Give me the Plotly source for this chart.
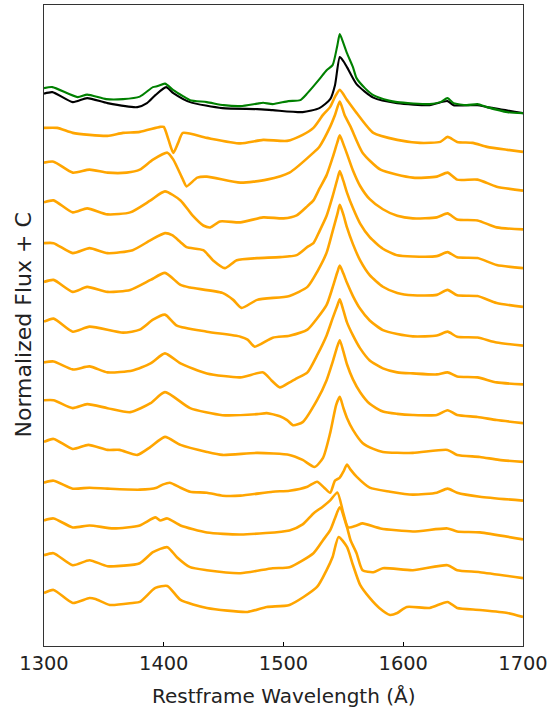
import plotly.graph_objects as go

# Composite spectra (top): normalized flux, offset C = 13
wave_green = [1300,1307,1328,1336,1352,1366,1380,1391,1395,1401,1408,1416,1422,1436,1450,1464,1478,1483,1491,1504,1514,1520,1530,1536,1541,1545,1547,1550,1553,1558,1561,1568,1575,1588,1595,1622,1631,1637,1642,1653,1662,1670,1687,1700]
flux_green = [1.645,1.671,1.413,1.477,1.361,1.361,1.426,1.671,1.697,1.761,1.593,1.439,1.335,1.284,1.206,1.181,1.245,1.266,1.232,1.310,1.335,1.516,1.877,2.109,2.238,2.754,3.038,2.806,2.548,2.187,1.903,1.645,1.464,1.323,1.284,1.232,1.284,1.387,1.258,1.206,1.232,1.155,1.026,1.000]

wave_black = [1300,1307,1324,1336,1353,1378,1386,1393,1402,1408,1422,1449,1478,1491,1516,1530,1539,1543,1547,1550,1553,1561,1575,1595,1622,1637,1642,1662,1670,1700]
flux_black = [1.503,1.542,1.284,1.387,1.258,1.155,1.258,1.464,1.671,1.516,1.284,1.129,1.103,1.077,1.026,1.129,1.361,1.722,2.445,2.342,2.187,1.748,1.400,1.258,1.206,1.310,1.206,1.206,1.155,1.000]

# Individual spectra (orange), top to bottom, offsets C = 12 ... 0
wave_o1 = [1300,1311,1324,1338,1353,1366,1380,1397,1400,1404,1408,1412,1416,1436,1464,1483,1503,1516,1525,1533,1539,1543,1547,1553,1561,1575,1595,1614,1631,1637,1645,1658,1670,1687,1700]
flux_o1 = [1.619,1.619,1.490,1.439,1.413,1.490,1.516,1.645,1.645,1.310,0.974,1.232,1.490,1.361,1.219,1.310,1.284,1.439,1.619,1.955,2.161,2.419,2.600,2.342,2.006,1.490,1.310,1.232,1.258,1.387,1.258,1.232,1.129,1.052,1.000]

wave_o2 = [1300,1308,1324,1338,1353,1369,1380,1391,1403,1408,1416,1419,1428,1436,1464,1486,1505,1525,1530,1539,1543,1547,1551,1556,1566,1581,1608,1628,1637,1645,1662,1678,1700]
flux_o2 = [1.722,1.748,1.464,1.542,1.464,1.464,1.542,1.800,1.980,1.800,1.284,1.110,1.335,1.361,1.206,1.284,1.464,1.980,2.135,2.651,2.950,3.296,2.950,2.651,1.980,1.542,1.335,1.361,1.464,1.284,1.284,1.103,1.000]

wave_o3 = [1300,1308,1324,1336,1353,1372,1389,1401,1414,1424,1433,1439,1447,1464,1483,1500,1511,1520,1525,1530,1536,1541,1545,1547,1550,1553,1558,1564,1572,1583,1595,1608,1628,1637,1645,1662,1678,1700]
flux_o3 = [1.697,1.748,1.439,1.542,1.387,1.439,1.748,1.980,1.748,1.360,1.100,1.052,1.206,1.181,1.310,1.284,1.361,1.600,1.748,2.050,2.400,2.850,3.250,3.425,3.200,2.950,2.520,2.120,1.780,1.520,1.350,1.284,1.310,1.413,1.258,1.232,1.052,1.000]

wave_o4 = [1300,1308,1324,1338,1353,1374,1389,1401,1407,1414,1419,1433,1441,1451,1461,1478,1497,1511,1520,1525,1530,1536,1541,1545,1547,1550,1553,1558,1564,1572,1583,1595,1608,1628,1637,1645,1662,1678,1700]
flux_o4 = [1.645,1.645,1.387,1.516,1.387,1.464,1.722,1.903,1.851,1.671,1.542,1.464,1.206,1.000,1.206,1.258,1.284,1.335,1.550,1.645,1.950,2.350,2.850,3.300,3.503,3.250,2.950,2.550,2.150,1.800,1.500,1.330,1.300,1.310,1.413,1.280,1.260,1.080,1.000]

wave_o5 = [1300,1308,1324,1336,1353,1372,1389,1401,1414,1422,1449,1458,1465,1478,1505,1520,1528,1536,1541,1545,1547,1550,1553,1558,1564,1572,1583,1595,1608,1628,1637,1645,1662,1678,1700]
flux_o5 = [1.645,1.697,1.387,1.516,1.387,1.439,1.697,1.877,1.568,1.500,1.361,1.181,0.974,1.181,1.284,1.516,1.900,2.400,2.950,3.400,3.632,3.380,3.050,2.620,2.200,1.820,1.520,1.360,1.300,1.310,1.439,1.300,1.280,1.100,1.000]

wave_o6 = [1300,1308,1324,1338,1366,1380,1391,1401,1411,1436,1464,1470,1476,1491,1505,1520,1528,1536,1541,1545,1547,1550,1553,1558,1564,1572,1583,1595,1608,1628,1637,1645,1662,1678,1700]
flux_o6 = [1.619,1.697,1.361,1.490,1.335,1.413,1.671,1.800,1.516,1.361,1.232,1.155,0.974,1.206,1.258,1.413,1.700,2.050,2.500,2.900,3.064,2.860,2.620,2.280,1.950,1.650,1.400,1.300,1.240,1.260,1.361,1.230,1.210,1.080,1.000]

wave_o7 = [1300,1308,1324,1338,1353,1374,1389,1401,1414,1436,1464,1483,1490,1497,1505,1511,1520,1528,1536,1541,1545,1547,1550,1553,1558,1564,1572,1583,1595,1608,1628,1637,1645,1662,1678,1700]
flux_o7 = [1.568,1.593,1.387,1.464,1.310,1.361,1.542,1.800,1.542,1.284,1.181,1.310,1.103,0.923,1.052,1.155,1.310,1.748,2.264,2.703,3.038,3.193,2.909,2.600,2.264,1.929,1.619,1.413,1.310,1.284,1.258,1.310,1.206,1.181,1.052,1.000]

wave_o8 = [1300,1308,1324,1336,1353,1372,1389,1401,1422,1449,1478,1486,1497,1503,1508,1516,1528,1536,1541,1545,1547,1550,1553,1558,1564,1572,1583,1595,1608,1628,1637,1645,1662,1678,1700]
flux_o8 = [1.593,1.593,1.387,1.490,1.387,1.284,1.516,1.800,1.387,1.206,1.232,1.258,1.180,1.080,0.948,1.026,1.593,2.109,2.574,2.987,3.141,2.850,2.520,2.130,1.800,1.500,1.300,1.240,1.210,1.210,1.335,1.210,1.160,1.080,1.000]

wave_o9 = [1300,1308,1324,1337,1353,1363,1378,1389,1401,1414,1436,1449,1478,1505,1516,1526,1533,1539,1544,1547,1550,1553,1558,1566,1575,1583,1608,1637,1645,1664,1680,1700]
flux_o9 = [1.516,1.593,1.335,1.439,1.310,1.310,1.181,1.387,1.645,1.439,1.258,1.181,1.232,1.181,1.052,0.871,1.103,1.748,2.470,2.677,2.393,2.135,1.826,1.490,1.335,1.258,1.232,1.310,1.181,1.129,1.052,1.000]

wave_o10 = [1300,1308,1324,1338,1353,1380,1394,1399,1405,1414,1422,1436,1449,1464,1491,1505,1520,1528,1534,1539,1543,1547,1550,1553,1556,1561,1572,1589,1608,1628,1637,1645,1664,1700]
flux_o10 = [1.464,1.516,1.310,1.335,1.310,1.284,1.335,1.413,1.464,1.335,1.232,1.206,1.129,1.129,1.232,1.258,1.361,1.490,1.335,1.206,1.516,1.593,1.748,1.929,1.800,1.619,1.335,1.232,1.155,1.206,1.310,1.206,1.103,1.000]

wave_o11 = [1300,1308,1324,1338,1358,1380,1393,1397,1403,1414,1436,1464,1505,1516,1525,1533,1539,1545,1550,1554,1561,1566,1581,1608,1637,1645,1664,1700]
flux_o11 = [1.490,1.542,1.310,1.361,1.284,1.361,1.568,1.490,1.542,1.361,1.181,1.129,1.232,1.387,1.671,1.850,2.006,2.213,1.671,1.310,1.361,1.413,1.284,1.206,1.284,1.206,1.181,1.000]

wave_o12 = [1300,1308,1324,1338,1353,1380,1391,1403,1411,1422,1436,1464,1491,1505,1525,1533,1539,1543,1547,1553,1556,1561,1566,1575,1583,1608,1637,1645,1664,1700]
flux_o12 = [1.593,1.645,1.335,1.464,1.310,1.387,1.671,1.800,1.542,1.284,1.206,1.129,1.258,1.284,1.645,1.980,2.238,2.548,2.832,2.316,1.980,1.645,1.206,1.155,1.258,1.206,1.335,1.206,1.155,1.000]

wave_o13 = [1300,1308,1324,1338,1343,1355,1374,1380,1393,1403,1414,1436,1470,1486,1505,1528,1536,1541,1546,1553,1558,1564,1572,1580,1589,1595,1603,1622,1637,1645,1664,1687,1700]
flux_o13 = [1.619,1.697,1.361,1.490,1.464,1.310,1.361,1.387,1.748,1.800,1.439,1.232,1.129,1.258,1.310,1.774,2.210,2.548,3.064,2.806,2.340,1.826,1.490,1.232,1.052,1.103,1.258,1.232,1.387,1.232,1.181,1.103,1.000]

offset_composite = 13
orange_waves = [wave_o1, wave_o2, wave_o3, wave_o4, wave_o5, wave_o6, wave_o7,
                wave_o8, wave_o9, wave_o10, wave_o11, wave_o12, wave_o13]
orange_fluxes = [flux_o1, flux_o2, flux_o3, flux_o4, flux_o5, flux_o6, flux_o7,
                 flux_o8, flux_o9, flux_o10, flux_o11, flux_o12, flux_o13]
orange_offsets = [12, 11, 10, 9, 8, 7, 6, 5, 4, 3, 2, 1, 0]

x_ticks = [1300, 1400, 1500, 1600, 1700]
x_title = "Restframe Wavelength (Å)"
y_title = "Normalized Flux + C"

fig = go.Figure()
for w, f, c in zip(orange_waves, orange_fluxes, orange_offsets):
    fig.add_trace(go.Scatter(x=w, y=[v + c for v in f], mode="lines",
                             line=dict(color="#FFA500", width=2.6, shape="spline", smoothing=0.6),
                             hoverinfo="skip"))
fig.add_trace(go.Scatter(x=wave_black, y=[v + offset_composite for v in flux_black], mode="lines",
                         line=dict(color="black", width=2.1, shape="spline", smoothing=0.6)))
fig.add_trace(go.Scatter(x=wave_green, y=[v + offset_composite for v in flux_green], mode="lines",
                         line=dict(color="#008000", width=2.1, shape="spline", smoothing=0.6)))

fig.update_layout(
    width=551, height=708,
    margin=dict(l=44, r=28, t=5, b=62),
    plot_bgcolor="white", paper_bgcolor="white",
    showlegend=False,
    font=dict(family="DejaVu Sans", size=19.4, color="black"),
    annotations=[
        dict(text=x_title, xref="paper", yref="paper", x=0.5, y=0,
             xanchor="center", yanchor="middle", yshift=-50, showarrow=False,
             font=dict(size=20, color="#222222")),
        dict(text=y_title, xref="paper", yref="paper", x=0, y=0.5, textangle=-90,
             xanchor="center", yanchor="middle", xshift=-21, showarrow=False,
             font=dict(size=22, color="#222222")),
    ],
)
fig.update_xaxes(
    range=[1300, 1700], tickvals=x_ticks, ticktext=[str(t) for t in x_ticks],
    ticks="inside", ticklen=4, tickwidth=1, tickcolor="black",
    showline=True, linecolor="#333333", linewidth=1, mirror=True,
    showgrid=False, zeroline=False, automargin=False,
    tickfont=dict(color="#222222"),
)
fig.update_yaxes(
    range=[0.25, 16.79], showticklabels=False, ticks="",
    showline=True, linecolor="#333333", linewidth=1, mirror=True,
    showgrid=False, zeroline=False, automargin=False,
)

fig.write_html("out.html")
